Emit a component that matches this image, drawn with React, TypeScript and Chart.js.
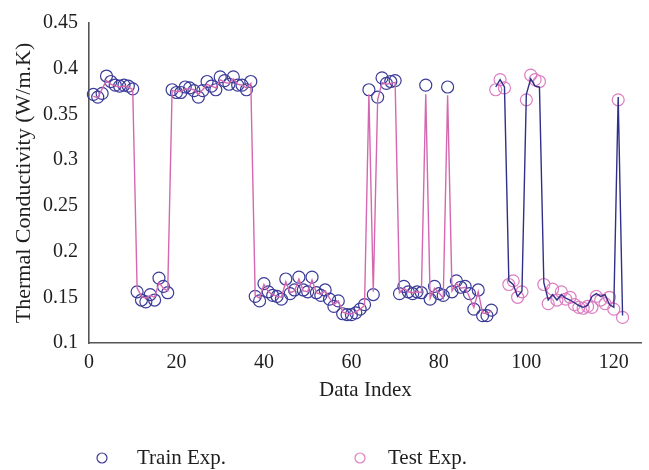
import { useEffect, useRef } from "react";
import { Chart, registerables } from "chart.js";

Chart.register(...registerables);

// Tick values shown on each axis
const xTickValues = [0, 20, 40, 60, 80, 100, 120];
const yTickValues = [0.1, 0.15, 0.2, 0.25, 0.3, 0.35, 0.4, 0.45];

// Training samples occupy indices 1..92, test samples 93..122
const trainStart = 1;
const testStart = 93;

// Experimental thermal conductivity, training set
const trainExp = [
  0.372, 0.369, 0.373, 0.392, 0.386, 0.382, 0.381, 0.382, 0.381, 0.378,
  0.156, 0.147, 0.145, 0.153, 0.147, 0.171, 0.162, 0.155,
  0.377, 0.374, 0.374, 0.380, 0.379, 0.376, 0.369, 0.376, 0.386, 0.381,
  0.377, 0.391, 0.387, 0.383, 0.391, 0.382, 0.382, 0.377, 0.386,
  0.151, 0.146, 0.165, 0.156, 0.152, 0.151, 0.148, 0.170, 0.154, 0.158,
  0.172, 0.158, 0.156, 0.172, 0.155, 0.152, 0.158, 0.148, 0.140, 0.146,
  0.132, 0.131, 0.131, 0.133, 0.137, 0.142,
  0.377, 0.153, 0.369, 0.390, 0.384, 0.386, 0.387,
  0.154, 0.162, 0.156, 0.154, 0.156, 0.155,
  0.382,
  0.148, 0.162, 0.154, 0.152,
  0.380,
  0.156, 0.168, 0.161, 0.162, 0.154, 0.137, 0.158, 0.130, 0.130, 0.136,
];

// Model output on the training set
const trainPred = [
  0.370, 0.368, 0.378, 0.387, 0.383, 0.381, 0.380, 0.381, 0.380, 0.377,
  0.160, 0.151, 0.149, 0.152, 0.150, 0.166, 0.160, 0.157,
  0.376, 0.375, 0.375, 0.378, 0.378, 0.377, 0.372, 0.377, 0.383, 0.381,
  0.379, 0.388, 0.385, 0.384, 0.389, 0.383, 0.382, 0.379, 0.384,
  0.152, 0.149, 0.164, 0.156, 0.153, 0.151, 0.150, 0.167, 0.155, 0.157,
  0.170, 0.157, 0.156, 0.169, 0.155, 0.153, 0.157, 0.149, 0.142, 0.146,
  0.134, 0.132, 0.132, 0.134, 0.137, 0.141,
  0.372, 0.156, 0.366, 0.385, 0.383, 0.384, 0.385,
  0.155, 0.160, 0.156, 0.155, 0.156, 0.155,
  0.372,
  0.149, 0.160, 0.155, 0.149,
  0.371,
  0.157, 0.165, 0.160, 0.161, 0.150, 0.139, 0.156, 0.133, 0.132, 0.135,
];

// Experimental thermal conductivity, test set
const testExp = [
  0.377, 0.388, 0.379,
  0.164, 0.168, 0.150, 0.156,
  0.366, 0.393, 0.388, 0.386,
  0.164, 0.143, 0.159, 0.147, 0.156, 0.148, 0.150, 0.142, 0.139, 0.138,
  0.140, 0.139, 0.151, 0.147, 0.143, 0.150, 0.137,
  0.366, 0.128,
];

// Model output on the test set
const testPred = [
  0.380, 0.388, 0.380,
  0.168, 0.164, 0.151, 0.157,
  0.372, 0.389, 0.381, 0.380,
  0.166, 0.147, 0.153, 0.147, 0.153, 0.149, 0.147, 0.144, 0.141, 0.139,
  0.141, 0.151, 0.154, 0.151, 0.153, 0.142, 0.139,
  0.369, 0.130,
];

const NAVY = "#3b3b98";
const NAVY_LINE = "#303088";
const PINK = "#dc7ec0";
const PINK_LINE = "#d468b0";
const AXIS = "#555555";
const TEXT = "#1e1e1e";
const FONT = "'Liberation Serif', 'DejaVu Serif', serif";

const toPoints = (values: number[], start: number) =>
  values.map((y, i) => ({ x: start + i, y }));

// Legend drawn under the plot for the two experimental series
const expLegend = {
  id: "expLegend",
  afterDraw(chart: any) {
    const { ctx } = chart;
    const entries = [
      { index: 1, markerX: 102, textX: 137 },
      { index: 3, markerX: 360, textX: 388 },
    ];
    const y = 458;
    ctx.save();
    ctx.font = `21px ${FONT}`;
    ctx.textBaseline = "middle";
    ctx.textAlign = "left";
    for (const e of entries) {
      const ds = chart.data.datasets[e.index];
      ctx.beginPath();
      ctx.strokeStyle = ds.borderColor;
      ctx.lineWidth = 1.2;
      ctx.arc(e.markerX, y, 5, 0, Math.PI * 2);
      ctx.stroke();
      ctx.fillStyle = TEXT;
      ctx.fillText(ds.label, e.textX, y);
    }
    ctx.restore();
  },
};

export default function App() {
  const canvasRef = useRef<HTMLCanvasElement>(null);

  useEffect(() => {
    const canvas = canvasRef.current;
    if (!canvas) return;
    const chart = new Chart(canvas, {
      type: "line",
      data: {
        datasets: [
          {
            label: "Train Pred.",
            data: toPoints(trainPred, trainStart),
            borderColor: PINK_LINE,
            borderWidth: 1.4,
            pointRadius: 0,
            fill: false,
            tension: 0,
            clip: false,
          },
          {
            label: "Train Exp.",
            data: toPoints(trainExp, trainStart),
            showLine: false,
            borderColor: NAVY,
            backgroundColor: "rgba(0,0,0,0)",
            pointStyle: "circle",
            pointRadius: 6,
            pointBorderWidth: 1.2,
            clip: false,
          },
          {
            label: "Test Pred.",
            data: toPoints(testPred, testStart),
            borderColor: NAVY_LINE,
            borderWidth: 1.4,
            pointRadius: 0,
            fill: false,
            tension: 0,
            clip: false,
          },
          {
            label: "Test Exp.",
            data: toPoints(testExp, testStart),
            showLine: false,
            borderColor: PINK,
            backgroundColor: "rgba(0,0,0,0)",
            pointStyle: "circle",
            pointRadius: 6,
            pointBorderWidth: 1.2,
            clip: false,
          },
        ],
      },
      options: {
        animation: false,
        responsive: false,
        devicePixelRatio: 1,
        layout: { padding: { top: 16, right: 6, bottom: 67, left: 0 } },
        plugins: {
          legend: { display: false },
          tooltip: { enabled: false },
        },
        scales: {
          x: {
            type: "linear",
            min: 0,
            max: 126.4,
            grid: { display: false, drawTicks: false },
            border: { display: true, color: AXIS, width: 1.6 },
            afterBuildTicks: (s: any) => {
              s.ticks = xTickValues.map((value) => ({ value }));
            },
            afterFit: (s: any) => {
              s.height = 60;
            },
            ticks: {
              padding: 8,
              color: TEXT,
              font: { family: FONT, size: 20 },
              maxRotation: 0,
              callback: (v: any) => String(v),
            },
            title: {
              display: true,
              text: "Data Index",
              color: TEXT,
              font: { family: FONT, size: 21 },
              padding: { top: 0, bottom: 0 },
            },
          },
          y: {
            type: "linear",
            min: 0.1,
            max: 0.45,
            grid: { display: false, drawTicks: false },
            border: { display: true, color: AXIS, width: 1.6 },
            afterBuildTicks: (s: any) => {
              s.ticks = yTickValues.map((value) => ({ value }));
            },
            afterFit: (s: any) => {
              s.width = 89;
            },
            ticks: {
              padding: 11,
              color: TEXT,
              font: { family: FONT, size: 20 },
              callback: (v: any) => String(Number(Number(v).toFixed(2))),
            },
            title: {
              display: true,
              text: "Thermal Conductivity (W/m.K)",
              color: TEXT,
              font: { family: FONT, size: 22 },
              padding: { top: 11, bottom: 0 },
            },
          },
        },
      },
      plugins: [expLegend],
    });
    return () => chart.destroy();
  }, []);

  return (
    <div
      style={{
        position: "fixed",
        left: 0,
        top: 0,
        width: 649,
        height: 470,
        background: "#ffffff",
      }}
    >
      <canvas
        ref={canvasRef}
        width={649}
        height={470}
        style={{ display: "block", width: 649, height: 470 }}
      />
    </div>
  );
}
